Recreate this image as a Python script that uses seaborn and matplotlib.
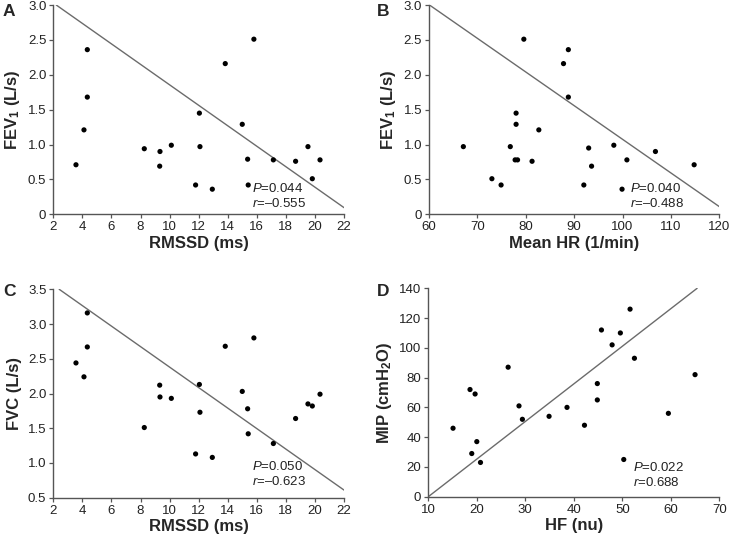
import numpy as np
import pandas as pd
import matplotlib
matplotlib.use("Agg")
import matplotlib.pyplot as plt
import seaborn as sns

# Panel A: RMSSD vs FEV1
rmssd = [3.56, 4.11, 4.34, 4.34, 8.26, 9.32, 9.34, 10.12, 11.79, 12.05, 12.09,
         12.94, 13.83, 15.0, 15.37, 15.41, 15.80, 17.14, 18.67, 19.52, 19.82, 20.35]
fev1_a = [0.71, 1.21, 2.36, 1.68, 0.94, 0.69, 0.90, 0.99, 0.42, 1.45, 0.97,
          0.36, 2.16, 1.29, 0.79, 0.42, 2.51, 0.78, 0.76, 0.97, 0.51, 0.78]

# Panel B: mean HR vs FEV1
mean_hr = [67.1, 73.0, 74.9, 76.8, 77.8, 78.0, 78.0, 78.3, 79.6, 81.3, 82.7,
           87.8, 88.8, 88.8, 92.0, 93.0, 93.6, 98.2, 99.9, 100.9, 106.8, 114.8]
fev1_b = [0.97, 0.51, 0.42, 0.97, 0.78, 1.45, 1.29, 0.78, 2.51, 0.76, 1.21,
          2.16, 2.36, 1.68, 0.42, 0.95, 0.69, 0.99, 0.36, 0.78, 0.90, 0.71]

# Panel C: RMSSD vs FVC
fvc = [2.44, 2.24, 3.16, 2.67, 1.51, 2.12, 1.95, 1.93, 1.13, 2.13, 1.73,
       1.08, 2.68, 2.03, 1.78, 1.42, 2.80, 1.28, 1.64, 1.85, 1.82, 1.99]

# Panel D: HF vs MIP
hf = [15.1, 18.6, 19.65, 18.96, 20.0, 20.76, 26.46, 28.7, 29.4, 34.9, 38.6,
      42.2, 44.85, 44.85, 45.7, 47.9, 49.6, 50.3, 51.6, 52.5, 59.5, 65.0]
mip = [46, 72, 69, 29, 37, 23, 87, 61, 52, 54, 60,
       48, 76, 65, 112, 102, 110, 25, 126, 93, 56, 82]

# trend lines (intercept, slope) as drawn in the figure
lines = {"A": (3.323, -0.1467), "B": (5.899, -0.04824),
         "C": (3.855, -0.1475), "D": (-25.26, 2.526)}
stats = {"A": ("0.044", "\u20130.555"), "B": ("0.040", "\u20130.488"),
         "C": ("0.050", "\u20130.623"), "D": ("0.022", "0.688")}

sns.set_style("ticks")
plt.rcParams["font.family"] = ["Liberation Sans", "DejaVu Sans"]
plt.rcParams["mathtext.fontset"] = "custom"
plt.rcParams["mathtext.rm"] = "Liberation Sans"
plt.rcParams["mathtext.it"] = "Liberation Sans:italic"
plt.rcParams["mathtext.bf"] = "Liberation Sans:bold"

fig = plt.figure(figsize=(7.3, 5.41), dpi=100)
W, H = 730, 541


def add_ax(l, t, r, b):
    return fig.add_axes([l / W, 1 - b / H, (r - l) / W, (b - t) / H])


panels = [
    ("A", add_ax(53.3, 5, 344, 214.3), rmssd, fev1_a, "RMSSD (ms)",
     r"FEV$_{\mathbf{1}}$ (L/s)", (2, 22, 2), (0, 3.0, 0.5)),
    ("B", add_ax(429, 5, 719.3, 214.3), mean_hr, fev1_b, "Mean HR (1/min)",
     r"FEV$_{\mathbf{1}}$ (L/s)", (60, 120, 10), (0, 3.0, 0.5)),
    ("C", add_ax(53.3, 289.3, 344, 497.7), rmssd, fvc, "RMSSD (ms)",
     "FVC (L/s)", (2, 22, 2), (0.5, 3.5, 0.5)),
    ("D", add_ax(428.3, 288.3, 719.3, 496.7), hf, mip, "HF (nu)",
     r"MIP (cmH$_{\mathbf{2}}$O)", (10, 70, 10), (0, 140, 20)),
]

text_pos = {"A": (0.683, 0.107, 0.036), "B": (0.692, 0.107, 0.036),
            "C": (0.683, 0.133, 0.061), "D": (0.703, 0.123, 0.051)}
letter_pos = {"A": (3, 4), "B": (377, 4), "C": (3, 284), "D": (377, 284)}

for key, ax, x, y, xlab, ylab, xr, yr in panels:
    df = pd.DataFrame({"x": x, "y": y})
    sns.scatterplot(data=df, x="x", y="y", ax=ax, color="black", s=14,
                    edgecolor="none", zorder=3)
    ax.set_xlim(xr[0], xr[1])
    ax.set_ylim(yr[0], yr[1])
    b0, b1 = lines[key]
    ax.axline((0, b0), slope=b1, color="#6b6b6b", lw=1.0, zorder=2)

    xt = np.arange(xr[0], xr[1] + xr[2] / 2, xr[2])
    yt = np.arange(yr[0], yr[1] + yr[2] / 2, yr[2])
    ax.set_xticks(xt)
    ax.set_xticklabels([f"{v:g}" for v in xt])
    ax.set_yticks(yt)
    if yr[2] < 1:
        ax.set_yticklabels(["0" if v == 0 else f"{v:.1f}" for v in yt])
    else:
        ax.set_yticklabels([f"{v:g}" for v in yt])

    ax.set_xlabel(xlab, fontsize=12, fontweight="bold", labelpad=2)
    ax.set_ylabel(ylab, fontsize=12, fontweight="bold", labelpad=4)
    ax.tick_params(direction="out", length=3, width=0.9, labelsize=9.5,
                   colors="#555555", labelcolor="#222222", pad=2)
    for s in ["left", "bottom"]:
        ax.spines[s].set_color("#555555")
        ax.spines[s].set_linewidth(1.0)
    sns.despine(ax=ax)

    tx, ty1, ty2 = text_pos[key]
    p, r = stats[key]
    ax.text(tx, ty1, f"$P$={p}", transform=ax.transAxes, fontsize=9.5,
            va="baseline", color="#222222")
    ax.text(tx, ty2, f"$r$={r}", transform=ax.transAxes, fontsize=9.5,
            va="baseline", color="#222222")

    lx, ly = letter_pos[key]
    fig.text(lx / W, 1 - ly / H, key, fontsize=12.5, fontweight="bold",
             va="top", ha="left")

fig.savefig("out.png", dpi=100)
